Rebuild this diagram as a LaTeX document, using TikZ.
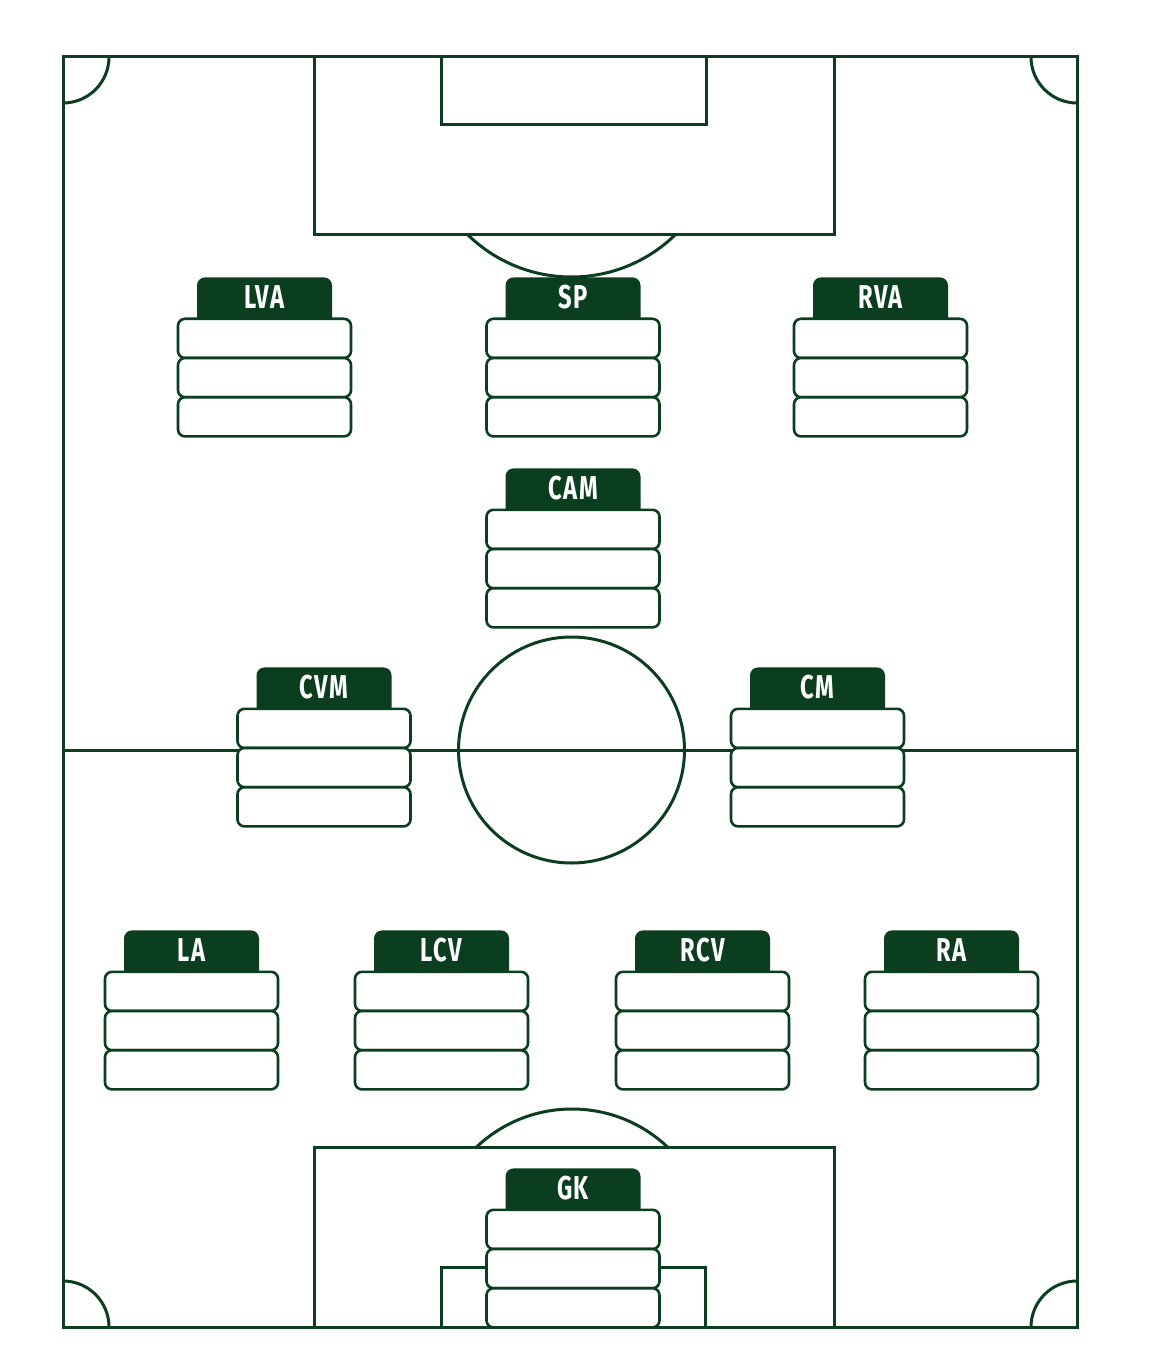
\documentclass[tikz,border=0pt]{standalone}
\usepackage{fontspec}
\newfontfamily\tagfont[FakeStretch=0.72,LetterSpace=5]{Fira Sans}
\usetikzlibrary{positioning}
\definecolor{pitchgreen}{RGB}{10,62,30}

\tikzset{
  pitchline/.style={draw=pitchgreen,line width=1.5pt},
  tagbox/.style={fill=pitchgreen,rounded corners=4pt,minimum width=67.5pt,minimum height=26.5pt,
    inner sep=0pt,text height=12pt,text depth=7.5pt,text=white,
    font=\tagfont\bfseries\fontsize{16.5}{16.5}\selectfont},
  slotbox/.style={draw=pitchgreen,fill=white,line width=1.3pt,rounded corners=3.5pt,
    minimum width=86.5pt,minimum height=19.6pt,inner sep=0pt,outer sep=0pt}
}

\begin{document}
\begin{tikzpicture}[x=0.5pt,y=-0.5pt]
\useasboundingbox[fill=white] (0,0) rectangle (1149,1369);

% corner arcs
\begin{scope}
\clip (63,57) rectangle (1077,1327);
\draw[pitchline] (63,57) circle (46);
\draw[pitchline] (1077,57) circle (46);
\draw[pitchline] (63,1327) circle (46);
\draw[pitchline] (1077,1327) circle (46);
\end{scope}

% penalty arcs
\begin{scope}
\clip (63,235) rectangle (1077,400);
\draw[pitchline] (571.5,128.5) circle (148.5);
\end{scope}
\begin{scope}
\clip (63,1000) rectangle (1077,1147);
\draw[pitchline] (572,1248) circle (139);
\end{scope}

\draw[pitchline] (63,57) rectangle (1077,1327);
\draw[pitchline] (63,750) -- (1077,750);
\draw[pitchline] (571.5,750) circle (113);
\draw[pitchline] (314,57) rectangle (834,235);
\draw[pitchline] (441,57) rectangle (706,125);
\draw[pitchline] (314,1327) rectangle (834,1147);
\draw[pitchline] (441,1327) rectangle (705,1267);

% player cards
\foreach \name/\cx/\cy/\txt in {lva/264.5/277/LVA,sp/573/277/SP,rva/880.5/277/RVA,
    cam/573/468/CAM,cvm/324/667/CVM,cm/817.5/667/CM,
    la/191.5/930/LA,lcv/441.5/930/LCV,rcv/702.5/930/RCV,ra/951.5/930/RA,
    gk/573/1168/GK}{
  \node[tagbox,anchor=north] (\name) at (\cx,\cy) {\txt};
  \node[slotbox,below=-6pt of \name] (\name-1) {};
  \node[slotbox,below=0pt of \name-1] (\name-2) {};
  \node[slotbox,below=0pt of \name-2] (\name-3) {};
}
\end{tikzpicture}
\end{document}
